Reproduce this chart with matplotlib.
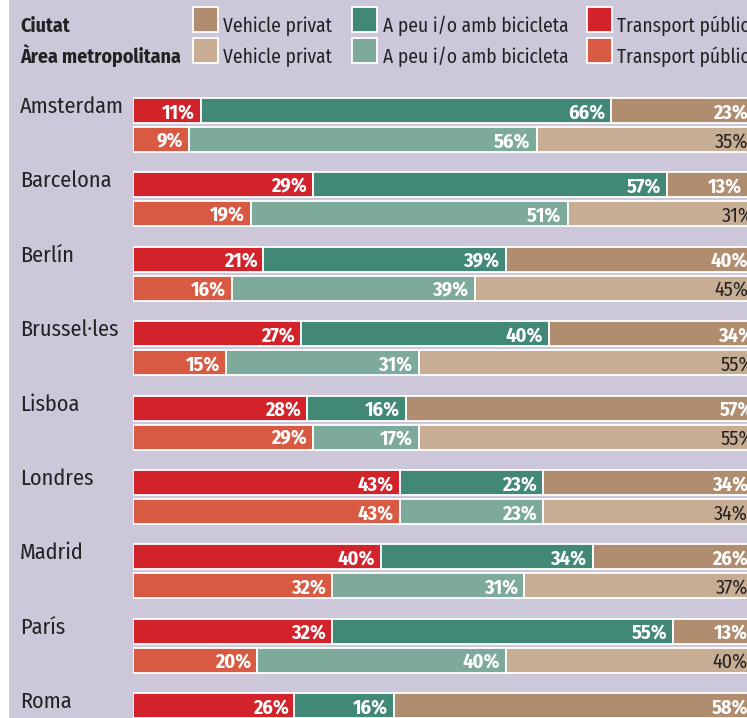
import matplotlib
matplotlib.use("Agg")
import matplotlib.pyplot as plt
from matplotlib.patches import Rectangle
from matplotlib import font_manager as fm
import logging
logging.getLogger('matplotlib.font_manager').setLevel(logging.ERROR)

_avail = set(f.name for f in fm.fontManager.ttflist)
_pref = ['Fira Sans Condensed', 'Roboto Condensed', 'PT Sans Narrow', 'Archivo Narrow',
         'Open Sans Condensed', 'Encode Sans Condensed', 'Liberation Sans']
FAM = [f for f in _pref if f in _avail] + ['DejaVu Sans']
plt.rcParams['font.family'] = FAM

cities = ["Amsterdam", "Barcelona", "Berlín", "Brussel·les", "Lisboa",
          "Londres", "Madrid", "París", "Roma"]
# City (Ciutat) values: public transport, walking/cycling, private vehicle
city_transport = [11, 29, 21, 27, 28, 43, 40, 32, 26]
city_walk      = [66, 57, 39, 40, 16, 23, 34, 55, 16]
city_vehicle   = [23, 13, 40, 34, 57, 34, 26, 13, 58]
# Metropolitan area values (Roma not visible)
metro_transport = [9, 19, 16, 15, 29, 43, 32, 20]
metro_walk      = [56, 51, 39, 31, 17, 23, 31, 40]
metro_vehicle   = [35, 31, 45, 55, 55, 34, 37, 40]

legend_labels = ["Vehicle privat", "A peu i/o amb bicicleta", "Transport públic"]
legend_rows = ["Ciutat", "Àrea metropolitana"]

BG = "#ccc8da"
C_TR, C_WK, C_VH = "#d2232a", "#418876", "#b08d6f"
M_TR, M_WK, M_VH = "#d95a43", "#7eaa9b", "#c8ad95"

W, H = 747, 718
fig = plt.figure(figsize=(W / 100, H / 100), dpi=100, facecolor=BG)
fig.patches.append(Rectangle((0, 0), 9 / W, 1, transform=fig.transFigure,
                             facecolor="white", edgecolor="none", zorder=0))

x0, x100 = 133, 754
ax = fig.add_axes([x0 / W, 0, (x100 - x0) / W, 1])
ax.set_xlim(0, 100)
ax.set_ylim(H, 0)
ax.axis("off")
ax.patch.set_alpha(0)

pitch = 74.4
top = 110.5
gap = 29
bh = 25

def fx(px):
    return px / W

def fy(py):
    return 1 - py / H

def draw_row(y, vals, colors, txtcolors, weights):
    left = 0
    for v, c, tc, w in zip(vals, colors, txtcolors, weights):
        ax.barh(y, v, left=left, height=bh, color=c, edgecolor="white", linewidth=1.3)
        ax.annotate(f"{v}%", xy=(left + v, y), xytext=(-6, 0), textcoords="offset pixels",
                    ha="right", va="center_baseline", fontsize=14.5, color=tc, fontweight=w,
                    annotation_clip=False)
        left += v

for i, name in enumerate(cities):
    yc = top + i * pitch
    fig.text(fx(20), fy(yc + 2.5), name, fontsize=16, color="#222222", va="baseline", ha="left")
    draw_row(yc, [city_transport[i], city_walk[i], city_vehicle[i]],
             [C_TR, C_WK, C_VH], ["white"] * 3, ["bold"] * 3)
    if i < len(metro_transport):
        ym = yc + gap
        draw_row(ym, [metro_transport[i], metro_walk[i], metro_vehicle[i]],
                 [M_TR, M_WK, M_VH], ["white", "white", "#222222"], ["bold", "bold", "normal"])

sw_x = [193, 352, 587]
tx_x = [223, 383, 617]
rows_y = [(7, 32), (38, 63)]
cols = [[C_VH, C_WK, C_TR], [M_VH, M_WK, M_TR]]
for r, (ytop, ybase) in enumerate(rows_y):
    fig.text(fx(20), fy(ybase), legend_rows[r], fontsize=14.3, fontweight="bold",
             color="#222222", va="baseline")
    for k in range(3):
        fig.patches.append(Rectangle((fx(sw_x[k]), fy(ytop + 25)), 25 / W, 25 / H,
                                     transform=fig.transFigure, facecolor=cols[r][k],
                                     edgecolor="white", linewidth=1.3))
        fig.text(fx(tx_x[k]), fy(ybase), legend_labels[k], fontsize=14,
                 color="#222222", va="baseline")

fig.savefig("out.png", dpi=100, facecolor=BG)
